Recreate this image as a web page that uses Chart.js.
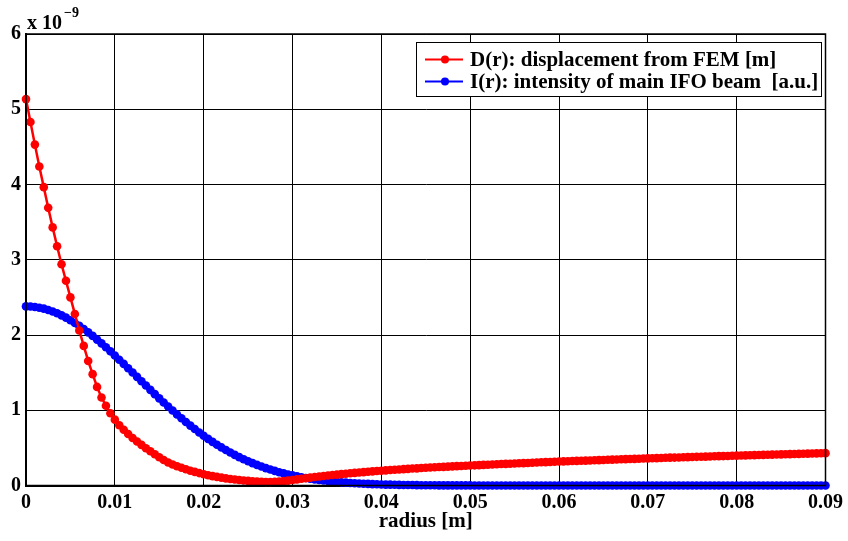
<!DOCTYPE html>
<html>
<head>
<meta charset="utf-8">
<script src="https://cdn.jsdelivr.net/npm/chart.js@4.4.1/dist/chart.umd.min.js"></script>
<style>
    html, body { margin: 0; padding: 0; background: #fff; }
    #wrap { width: 848px; height: 541px; }
</style>
</head>
<body>
<div id="wrap"><canvas id="myChart1"></canvas></div>
<script>
// radius [m], sampled every 0.5 mm
const radius = [
    0, 0.0005, 0.001, 0.0015, 0.002, 0.0025, 0.003, 0.0035, 0.004, 0.0045, 0.005, 0.0055, 0.006, 0.0065, 0.007, 0.0075, 0.008, 0.0085, 0.009, 0.0095,
    0.01, 0.0105, 0.011, 0.0115, 0.012, 0.0125, 0.013, 0.0135, 0.014, 0.0145, 0.015, 0.0155, 0.016, 0.0165, 0.017, 0.0175, 0.018, 0.0185, 0.019, 0.0195,
    0.02, 0.0205, 0.021, 0.0215, 0.022, 0.0225, 0.023, 0.0235, 0.024, 0.0245, 0.025, 0.0255, 0.026, 0.0265, 0.027, 0.0275, 0.028, 0.0285, 0.029, 0.0295,
    0.03, 0.0305, 0.031, 0.0315, 0.032, 0.0325, 0.033, 0.0335, 0.034, 0.0345, 0.035, 0.0355, 0.036, 0.0365, 0.037, 0.0375, 0.038, 0.0385, 0.039, 0.0395,
    0.04, 0.0405, 0.041, 0.0415, 0.042, 0.0425, 0.043, 0.0435, 0.044, 0.0445, 0.045, 0.0455, 0.046, 0.0465, 0.047, 0.0475, 0.048, 0.0485, 0.049, 0.0495,
    0.05, 0.0505, 0.051, 0.0515, 0.052, 0.0525, 0.053, 0.0535, 0.054, 0.0545, 0.055, 0.0555, 0.056, 0.0565, 0.057, 0.0575, 0.058, 0.0585, 0.059, 0.0595,
    0.06, 0.0605, 0.061, 0.0615, 0.062, 0.0625, 0.063, 0.0635, 0.064, 0.0645, 0.065, 0.0655, 0.066, 0.0665, 0.067, 0.0675, 0.068, 0.0685, 0.069, 0.0695,
    0.07, 0.0705, 0.071, 0.0715, 0.072, 0.0725, 0.073, 0.0735, 0.074, 0.0745, 0.075, 0.0755, 0.076, 0.0765, 0.077, 0.0775, 0.078, 0.0785, 0.079, 0.0795,
    0.08, 0.0805, 0.081, 0.0815, 0.082, 0.0825, 0.083, 0.0835, 0.084, 0.0845, 0.085, 0.0855, 0.086, 0.0865, 0.087, 0.0875, 0.088, 0.0885, 0.089, 0.0895,
    0.09
];

// D(r): displacement from FEM, in units of 1e-9 m
const displacement = [
    5.135, 4.83, 4.53, 4.24, 3.965, 3.69, 3.43, 3.18, 2.94, 2.72,
    2.5, 2.28, 2.06, 1.855, 1.655, 1.48, 1.31, 1.17, 1.06, 0.96,
    0.875, 0.8, 0.74, 0.685, 0.632, 0.585, 0.54, 0.495, 0.455, 0.415,
    0.375, 0.338, 0.305, 0.28, 0.256, 0.235, 0.215, 0.197, 0.181, 0.165,
    0.15, 0.137, 0.125, 0.114, 0.104, 0.095, 0.087, 0.08, 0.073, 0.067,
    0.061, 0.056, 0.052, 0.049, 0.047, 0.047, 0.049, 0.053, 0.058, 0.065,
    0.073, 0.081, 0.089, 0.097, 0.105, 0.112, 0.119, 0.126, 0.133, 0.139,
    0.145, 0.151, 0.157, 0.163, 0.168, 0.173, 0.178, 0.183, 0.188, 0.193,
    0.197, 0.201, 0.205, 0.209, 0.213, 0.217, 0.221, 0.225, 0.228, 0.232,
    0.235, 0.239, 0.242, 0.245, 0.248, 0.251, 0.254, 0.257, 0.26, 0.263,
    0.265, 0.268, 0.271, 0.274, 0.276, 0.279, 0.282, 0.285, 0.287, 0.29,
    0.292, 0.295, 0.297, 0.3, 0.303, 0.305, 0.308, 0.31, 0.313, 0.315,
    0.318, 0.32, 0.322, 0.325, 0.327, 0.329, 0.331, 0.333, 0.335, 0.337,
    0.339, 0.342, 0.344, 0.346, 0.348, 0.35, 0.352, 0.354, 0.356, 0.358,
    0.36, 0.362, 0.364, 0.366, 0.368, 0.37, 0.371, 0.373, 0.375, 0.377,
    0.379, 0.381, 0.382, 0.384, 0.386, 0.388, 0.39, 0.391, 0.393, 0.395,
    0.397, 0.398, 0.4, 0.402, 0.404, 0.405, 0.407, 0.409, 0.41, 0.412,
    0.414, 0.415, 0.417, 0.419, 0.42, 0.422, 0.424, 0.425, 0.427, 0.428,
    0.43
];

// I(r): intensity of main IFO beam [a.u.]
const intensity = [
    2.38, 2.378, 2.372, 2.363, 2.35, 2.333, 2.312, 2.289, 2.261, 2.231,
    2.197, 2.16, 2.121, 2.079, 2.035, 1.988, 1.939, 1.889, 1.837, 1.783,
    1.728, 1.672, 1.616, 1.559, 1.501, 1.444, 1.386, 1.328, 1.271, 1.214,
    1.158, 1.103, 1.049, 0.996, 0.944, 0.893, 0.844, 0.796, 0.75, 0.705,
    0.662, 0.62, 0.58, 0.542, 0.506, 0.471, 0.438, 0.407, 0.377, 0.349,
    0.322, 0.297, 0.274, 0.252, 0.231, 0.212, 0.194, 0.177, 0.161, 0.147,
    0.134, 0.121, 0.11, 0.099, 0.09, 0.081, 0.073, 0.066, 0.059, 0.053,
    0.047, 0.042, 0.038, 0.034, 0.03, 0.026, 0.023, 0.021, 0.018, 0.016,
    0.014, 0.012, 0.011, 0.01, 0.008, 0.007, 0.006, 0.006, 0.005, 0.004,
    0.004, 0.003, 0.003, 0.002, 0.002, 0.002, 0.002, 0.001, 0.001, 0.001,
    0.001, 0, 0, 0, 0, 0, 0, 0, 0, 0,
    0, 0, 0, 0, 0, 0, 0, 0, 0, 0,
    0, 0, 0, 0, 0, 0, 0, 0, 0, 0,
    0, 0, 0, 0, 0, 0, 0, 0, 0, 0,
    0, 0, 0, 0, 0, 0, 0, 0, 0, 0,
    0, 0, 0, 0, 0, 0, 0, 0, 0, 0,
    0, 0, 0, 0, 0, 0, 0, 0, 0, 0,
    0, 0, 0, 0, 0, 0, 0, 0, 0, 0,
    0
];

const seriesNames = ['D(r): displacement from FEM [m]', 'I(r): intensity of main IFO beam  [a.u.]'];
const seriesColors = ['rgb(255, 0, 0)', 'rgb(0, 0, 255)'];
const xTicks = [0, 0.01, 0.02, 0.03, 0.04, 0.05, 0.06, 0.07, 0.08, 0.09];
const yTicks = [0, 1, 2, 3, 4, 5, 6];
const xTitle = 'radius [m]';

const serif = '"Liberation Serif", "Times New Roman", serif';

function points(ys) {
    return ys.map((y, i) => ({ x: radius[i], y: y }));
}

// matlab-like extras: box, exponent label, legend inside the axes
const extras = {
    id: 'extras',
    afterDraw(chart) {
        const ctx = chart.ctx;
        const a = chart.chartArea;
        ctx.save();

        ctx.strokeStyle = '#000';
        ctx.lineWidth = 1.5;
        ctx.strokeRect(a.left, a.top, a.right - a.left, a.bottom - a.top);

        ctx.fillStyle = '#000';
        ctx.textBaseline = 'alphabetic';
        ctx.textAlign = 'left';
        ctx.font = 'bold 20px ' + serif;
        ctx.fillText('x 10', 27, 29);
        ctx.font = 'bold 14px ' + serif;
        ctx.fillText('\u22129', 64, 17);

        // legend
        const lx = 416, ly = 43, lw = 405, lh = 54;
        ctx.fillStyle = '#fff';
        ctx.fillRect(lx, ly, lw, lh);
        ctx.lineWidth = 1;
        ctx.strokeStyle = '#000';
        ctx.strokeRect(lx + 0.5, ly - 0.5, lw, lh);

        const rows = [59.5, 81.5];
        ctx.font = 'bold 21px ' + serif;
        ctx.textBaseline = 'middle';
        for (let i = 0; i < seriesNames.length; i++) {
            const y = rows[i];
            ctx.strokeStyle = seriesColors[i];
            ctx.fillStyle = seriesColors[i];
            ctx.lineWidth = 2;
            ctx.beginPath();
            ctx.moveTo(425, y);
            ctx.lineTo(463, y);
            ctx.stroke();
            ctx.beginPath();
            ctx.arc(445, y, 4, 0, Math.PI * 2);
            ctx.fill();
            ctx.fillStyle = '#000';
            ctx.fillText(seriesNames[i], 470, y + 1);
        }
        ctx.restore();
    }
};

const ctx = document.getElementById('myChart1');

window.myChart = new Chart(ctx, {
    type: 'line',
    data: {
        datasets: [{
            label: seriesNames[0],
            data: points(displacement),
            borderColor: seriesColors[0],
            backgroundColor: seriesColors[0],
            pointBackgroundColor: seriesColors[0],
            pointBorderColor: seriesColors[0],
            borderWidth: 2.5,
            radius: 4.3,
            pointBorderWidth: 0,
            clip: false,
            order: 0
        }, {
            label: seriesNames[1],
            data: points(intensity),
            borderColor: seriesColors[1],
            backgroundColor: seriesColors[1],
            pointBackgroundColor: seriesColors[1],
            pointBorderColor: seriesColors[1],
            borderWidth: 2.5,
            radius: 4.3,
            pointBorderWidth: 0,
            clip: false,
            order: 1
        }]
    },
    options: {
        responsive: true,
        maintainAspectRatio: false,
        animation: false,
        devicePixelRatio: 1,
        layout: { padding: { top: 34, right: 19, left: 0, bottom: 0 } },
        plugins: {
            legend: { display: false },
            tooltip: { enabled: false }
        },
        events: [],
        scales: {
            x: {
                type: 'linear',
                min: 0,
                max: 0.09,
                afterFit: (s) => { s.height = 55.5; },
                afterBuildTicks: (s) => { s.ticks = xTicks.map(v => ({ value: v })); },
                grid: { color: '#000', lineWidth: 1, drawTicks: false },
                border: { display: true, color: '#000', width: 2 },
                ticks: {
                    padding: 5,
                    color: '#000',
                    maxRotation: 0,
                    autoSkip: false,
                    font: { family: serif, weight: 'bold', size: 20 },
                    callback: (v) => v === 0 ? '0' : v.toFixed(2)
                },
                title: {
                    display: true,
                    text: xTitle,
                    color: '#000',
                    padding: { top: 0, bottom: 7 },
                    font: { family: serif, weight: 'bold', size: 21 }
                }
            },
            y: {
                min: 0,
                max: 6,
                afterFit: (s) => { s.width = 26; },
                afterBuildTicks: (s) => { s.ticks = yTicks.map(v => ({ value: v })); },
                grid: { color: '#000', lineWidth: 1, drawTicks: false },
                border: { display: true, color: '#000', width: 2 },
                ticks: {
                    padding: 5,
                    color: '#000',
                    font: { family: serif, weight: 'bold', size: 20 }
                }
            }
        }
    },
    plugins: [extras]
});
</script>
</body>
</html>
